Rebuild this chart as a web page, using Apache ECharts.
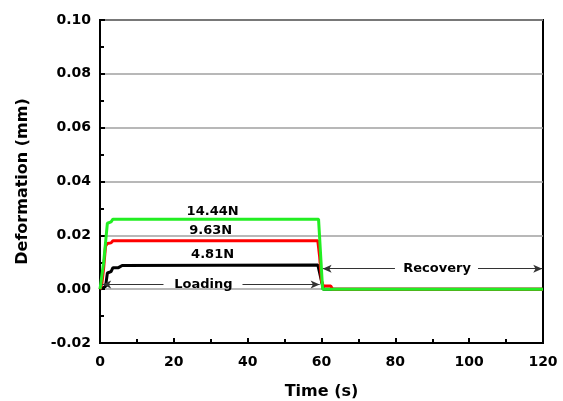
<!DOCTYPE html>
<html><head><meta charset="utf-8">
<script src="https://cdn.jsdelivr.net/npm/echarts@6/dist/echarts.min.js"></script>
<style>html,body{margin:0;padding:0;background:#fff}#c{width:563px;height:401px}</style>
</head><body><div id="c"></div>
<script>
// Data (time in s, deformation in mm)
const black481 = [[0,0],[1.5,0.001],[2,0.006],[3,0.0065],[3.5,0.008],[5,0.008],[6,0.0088],[6.5,0.009],[59,0.009],[59.5,0.006],[60,0.003],[60.5,0],[120,0]];
const red963 = [[0,0],[0.5,0.002],[1,0.008],[1.5,0.016],[2,0.017],[3,0.0172],[3.5,0.018],[59,0.018],[59.5,0.012],[60,0.003],[60.5,0.0012],[62.5,0.0012],[63,0],[120,0]];
const green1444 = [[0,0],[1,0.01],[2,0.0245],[3,0.025],[3.5,0.026],[59.2,0.026],[60.3,0],[120,0]];
const seriesNames = ['4.81N','9.63N','14.44N'];
const labelPos = [[30.5,0.0127],[30,0.0216],[30.5,0.0287]];
const loadingText = {text:'Loading', x:28, y:0.0017, leftFrom:17.2, leftTo:0.6, rightFrom:38.6, rightTo:59.5};
const recoveryText = {text:'Recovery', x:91.3, y:0.0076, leftFrom:79.9, leftTo:60.3, rightFrom:102.4, rightTo:119.8};

const font = '"DejaVu Sans", sans-serif';
const chart = echarts.init(document.getElementById('c'));
function arrowLine(a){
  return [
    [{coord:[a.leftFrom,a.y],symbol:'none'},{coord:[a.leftTo,a.y],symbol:'arrow'}],
    [{coord:[a.rightFrom,a.y],symbol:'none'},{coord:[a.rightTo,a.y],symbol:'arrow'}]
  ];
}
const textStyle = {show:true,color:'#000',fontFamily:font,fontWeight:'bold',fontSize:13,position:'inside'};
const tickStyle = {inside:true,length:5,lineStyle:{width:2,color:'#000'}};
chart.setOption({
  animation:false,
  grid:{left:100,right:20,top:20,bottom:58,show:true,borderColor:'#000',borderWidth:2,backgroundColor:'transparent',
    containLabel:false,outerBoundsMode:'none'},
  xAxis:{type:'value',min:0,max:120,interval:20,
    name:'Time (s)',nameLocation:'middle',nameGap:41,
    nameTextStyle:{fontFamily:font,fontWeight:'bold',fontSize:16,color:'#000'},
    axisLine:{onZero:false,lineStyle:{color:'#000',width:2}},
    axisTick:tickStyle,
    minorTick:{show:true,splitNumber:2,length:4,lineStyle:{width:2,color:'#000'}},
    axisLabel:{fontFamily:font,fontWeight:'bold',fontSize:14,color:'#000',margin:12},
    splitLine:{show:false}},
  yAxis:{type:'value',min:-0.02,max:0.10,interval:0.02,
    name:'Deformation (mm)',nameLocation:'middle',nameGap:69,
    nameTextStyle:{fontFamily:font,fontWeight:'bold',fontSize:16,color:'#000'},
    axisLine:{onZero:false,lineStyle:{color:'#000',width:2}},
    axisTick:tickStyle,
    minorTick:{show:true,splitNumber:2,length:4,lineStyle:{width:2,color:'#000'}},
    axisLabel:{fontFamily:font,fontWeight:'bold',fontSize:14,color:'#000',margin:9,formatter:v=>v.toFixed(2)},
    splitLine:{show:true,lineStyle:{color:'#a0a0a0',width:1.5}}},
  series:[
    {name:seriesNames[0],type:'line',data:black481,showSymbol:false,lineStyle:{color:'#000',width:3},z:3,
      markPoint:{symbol:'circle',symbolSize:0,data:[{coord:labelPos[0],label:{...textStyle,formatter:seriesNames[0]}}]}},
    {name:seriesNames[1],type:'line',data:red963,showSymbol:false,lineStyle:{color:'#ff0000',width:3},z:4,
      markPoint:{symbol:'circle',symbolSize:0,data:[{coord:labelPos[1],label:{...textStyle,formatter:seriesNames[1]}}]}},
    {name:seriesNames[2],type:'line',data:green1444,showSymbol:false,lineStyle:{color:'#22ee22',width:3},z:5,
      markPoint:{symbol:'circle',symbolSize:0,data:[
        {coord:labelPos[2],label:{...textStyle,formatter:seriesNames[2]}},
        {coord:[loadingText.x,loadingText.y],label:{...textStyle,formatter:loadingText.text}},
        {coord:[recoveryText.x,recoveryText.y],label:{...textStyle,formatter:recoveryText.text}}
      ]},
      markLine:{silent:true,symbolSize:[6,9],label:{show:false},lineStyle:{color:'#333',width:1,type:'solid'},
        itemStyle:{color:'#000'},
        data:[...arrowLine(loadingText),...arrowLine(recoveryText)]}}
  ]
});
</script></body></html>
